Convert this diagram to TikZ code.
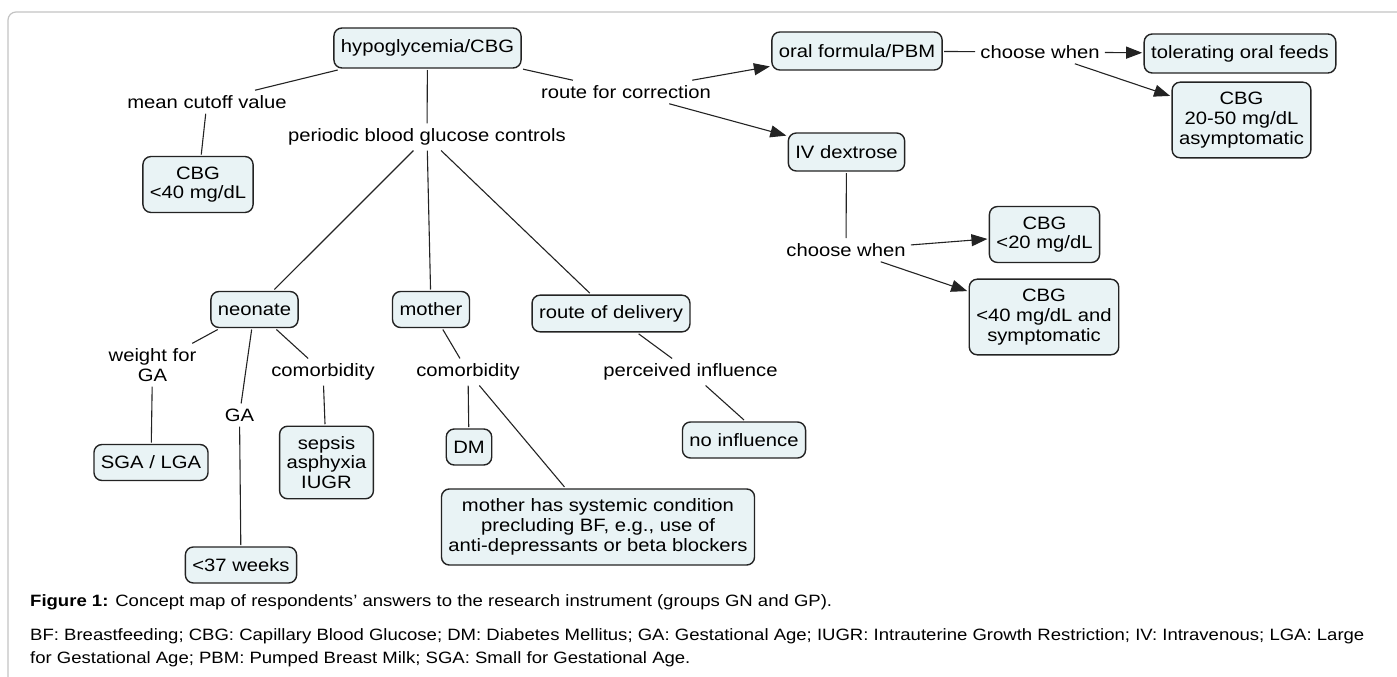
\documentclass[tikz,border=0pt]{standalone}
\usepackage{fontspec}
\setmainfont{Liberation Sans}[FakeStretch=1.13]
\usetikzlibrary{arrows.meta}

\definecolor{boxfill}{RGB}{233,243,245}
\definecolor{boxline}{RGB}{35,35,35}
\definecolor{framegray}{RGB}{195,195,195}
\newcommand{\mapfont}{\fontsize{17.9}{19.7}\selectfont}
\newcommand{\capfont}{\fontsize{16.4}{19}\selectfont}

\tikzset{
  concept/.style={draw=boxline, fill=boxfill, line width=1.4pt, rounded corners=8pt,
    align=center, inner xsep=7pt, inner ysep=10pt, minimum height=36pt, outer sep=2pt, font=\mapfont},
  linkword/.style={align=center, inner sep=5pt, font=\mapfont},
  link/.style={draw=boxline, line width=1.1pt},
  linkto/.style={link, -{Triangle[length=16pt,width=12pt]}},
  captext/.style={anchor=base west, inner sep=0pt, font=\capfont}
}

\begin{document}
\begin{tikzpicture}[x=1pt,y=-1pt]
  \useasboundingbox (0,0) rectangle (1397,677);
  \draw[framegray, line width=1.2pt, rounded corners=8pt] (8,677) -- (8,12) -- (1397,12);   % frame

  % concepts and linking words
  \node[concept, minimum height=40pt] (hypo) at (427.5,48) {hypoglycemia/CBG};
  \node[linkword] (cutoff) at (207,102) {mean cutoff value};
  \node[concept] (cbg40) at (198,184.5) {CBG\\<40 mg/dL};
  \node[linkword] (periodic) at (427,137) {periodic blood glucose controls};
  \node[linkword] (route) at (626,92) {route for correction};

  \node[concept, minimum height=38pt] (oral) at (857,51) {oral formula/PBM};
  \node[linkword] (whenoral) at (1040,52) {choose when};
  \node[concept, minimum height=39pt] (tolerating) at (1240,53.5) {tolerating oral feeds};
  \node[concept] (cbgmid) at (1241.5,120) {CBG\\20-50 mg/dL\\asymptomatic};

  \node[concept, minimum height=38pt] (iv) at (846.5,152) {IV dextrose};
  \node[linkword] (wheniv) at (846,250) {choose when};
  \node[concept] (cbg20) at (1044.5,234.5) {CBG\\<20 mg/dL};
  \node[concept] (cbgsym) at (1044,317) {CBG\\<40 mg/dL and\\symptomatic};

  \node[concept] (neonate) at (254.5,309.5) {neonate};
  \node[concept] (mother) at (431,309.5) {mother};
  \node[concept] (delivery) at (611,313.5) {route of delivery};

  \node[linkword] (weight) at (152.5,365) {weight for\\GA};
  \node[linkword] (ga) at (239.5,415) {GA};
  \node[linkword] (comorbn) at (323,372) {comorbidity};
  \node[concept] (sgalga) at (151,462.5) {SGA / LGA};
  \node[concept] (sepsis) at (326.5,462.5) {sepsis\\asphyxia\\IUGR};
  \node[concept] (weeks) at (241,565) {<37 weeks};

  \node[linkword] (comorbm) at (468,372) {comorbidity};
  \node[concept] (dm) at (469,447) {DM};
  \node[concept] (systemic) at (598,527) {mother has systemic condition\\precluding BF, e.g., use of\\anti-depressants or beta blockers};

  \node[linkword] (perceived) at (690.5,372) {perceived influence};
  \node[concept] (noinfl) at (744,440) {no influence};

  % connectors
  \draw[link] (hypo) -- (cutoff);
  \draw[link] (cutoff) -- (cbg40);
  \draw[link] (hypo) -- (periodic);
  \draw[link] (periodic) -- (neonate);
  \draw[link] (periodic) -- (mother);
  \draw[link] (periodic) -- (delivery);
  \draw[link] (hypo) -- (route);
  \draw[linkto] (route) -- (oral);
  \draw[linkto] (route) -- (iv);

  \draw[link] (oral) -- (whenoral);
  \draw[linkto] (whenoral) -- (tolerating);
  \draw[linkto] (whenoral) -- (cbgmid);
  \draw[link] (iv) -- (wheniv);
  \draw[linkto] (wheniv) -- (cbg20);
  \draw[linkto] (wheniv) -- (cbgsym);

  \draw[link] (neonate) -- (weight);
  \draw[link] (weight) -- (sgalga);
  \draw[link] (neonate) -- (ga);
  \draw[link] (ga) -- (weeks);
  \draw[link] (neonate) -- (comorbn);
  \draw[link] (comorbn) -- (sepsis);

  \draw[link] (mother) -- (comorbm);
  \draw[link] (comorbm) -- (dm);
  \draw[link] (comorbm) -- (systemic);

  \draw[link] (delivery) -- (perceived);
  \draw[link] (perceived) -- (noinfl.north);

  % caption
  \node[captext] (caption) at (30,606) {\textbf{Figure 1:} Concept map of respondents’ answers to the research instrument (groups GN and GP).};
  \node[captext] (legend1) at (30,640) {BF: Breastfeeding; CBG: Capillary Blood Glucose; DM: Diabetes Mellitus; GA: Gestational Age; IUGR: Intrauterine Growth Restriction; IV: Intravenous; LGA: Large};
  \node[captext] (legend2) at (30,663) {for Gestational Age; PBM: Pumped Breast Milk; SGA: Small for Gestational Age.};
\end{tikzpicture}
\end{document}
